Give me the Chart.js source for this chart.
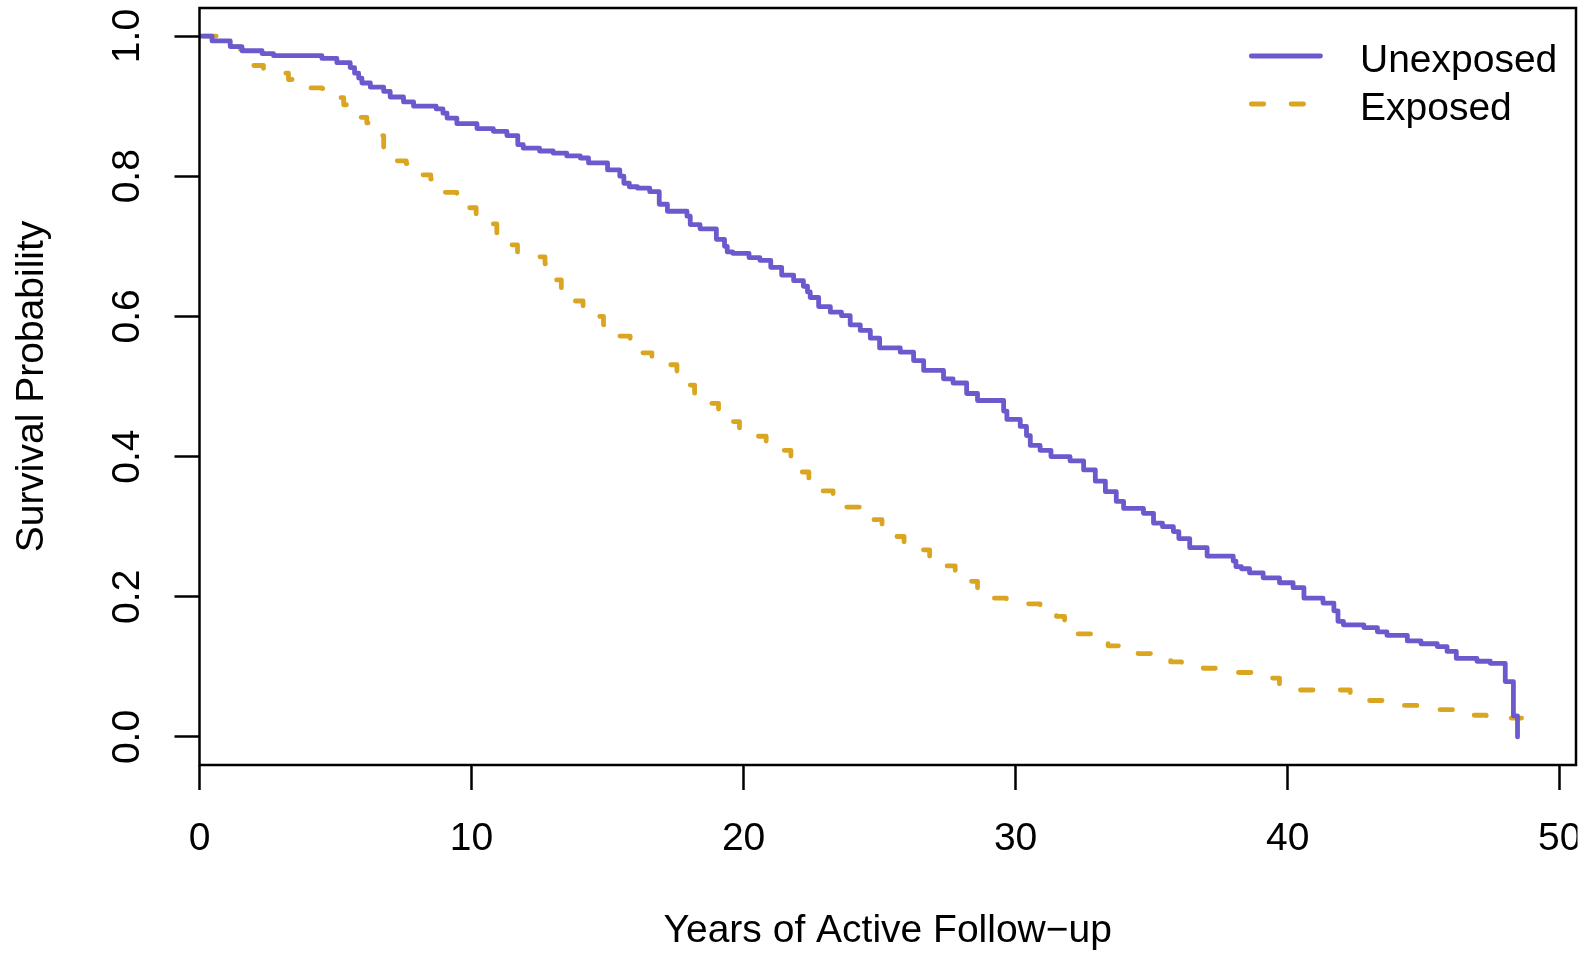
<!DOCTYPE html>
<html>
<head>
<meta charset="utf-8">
<title>Survival by exposure</title>
<script src="https://cdn.jsdelivr.net/npm/chart.js@4/dist/chart.umd.min.js"></script>
<style>
  html, body { margin: 0; padding: 0; background: #fff; }
  #km { display: block; }
</style>
</head>
<body>
<canvas id="km" width="1592" height="957"></canvas>
<script>
// Kaplan-Meier step values (years, survival)
const unexposedTime = [0, 0.46, 1.13, 1.56, 2.3, 2.72, 4.5, 5.05, 5.54, 5.7, 5.85, 5.97, 6.28, 6.77, 7.01, 7.5, 7.87, 8.7, 8.95, 9.1,
  9.46, 10.2, 10.8, 11.3, 11.7, 11.9, 12.5, 13.0, 13.5, 14.0, 14.3, 15.0, 15.45, 15.6, 15.8, 16.1, 16.55, 16.9, 17.2, 17.92,
  18.04, 18.4, 19.0, 19.3, 19.4, 19.6, 20.2, 20.6, 21.0, 21.4, 21.84, 22.2, 22.35, 22.45, 22.76, 23.19, 23.6, 23.92, 24.29, 24.66,
  25.0, 25.76, 26.25, 26.62, 27.35, 27.7, 28.2, 28.6, 29.56, 29.68, 30.17, 30.4, 30.54, 30.9, 31.3, 32.0, 32.5, 32.93, 33.3, 33.7,
  33.97, 34.7, 35.07, 35.4, 35.8, 36.0, 36.4, 37.04, 38.0, 38.1, 38.3, 38.6, 39.1, 39.7, 40.2, 40.6, 41.3, 41.7, 41.85, 42.05,
  42.8, 43.3, 43.65, 44.4, 44.9, 45.5, 45.86, 46.2, 46.96, 47.45, 48.0, 48.3, 48.45];
const unexposedSurv = [1.0, 0.993, 0.985, 0.979, 0.975, 0.972, 0.968, 0.962, 0.955, 0.947, 0.940, 0.933, 0.927, 0.921, 0.913, 0.906, 0.900, 0.896, 0.890, 0.883,
  0.875, 0.868, 0.864, 0.858, 0.845, 0.840, 0.836, 0.833, 0.829, 0.826, 0.819, 0.809, 0.800, 0.790, 0.785, 0.783, 0.778, 0.760, 0.750, 0.743,
  0.731, 0.725, 0.710, 0.700, 0.692, 0.690, 0.684, 0.680, 0.670, 0.659, 0.651, 0.643, 0.635, 0.627, 0.614, 0.606, 0.601, 0.588, 0.580, 0.569,
  0.555, 0.549, 0.537, 0.523, 0.511, 0.505, 0.490, 0.480, 0.465, 0.453, 0.443, 0.430, 0.416, 0.409, 0.400, 0.394, 0.381, 0.365, 0.350, 0.336,
  0.326, 0.319, 0.305, 0.300, 0.293, 0.283, 0.270, 0.258, 0.251, 0.243, 0.240, 0.234, 0.227, 0.220, 0.213, 0.198, 0.191, 0.180, 0.165, 0.160,
  0.156, 0.150, 0.145, 0.137, 0.133, 0.129, 0.122, 0.112, 0.108, 0.105, 0.079, 0.030, 0.000];

const exposedTime = [0, 1.13, 1.5, 1.98, 2.35, 2.97, 3.27, 4.0, 4.5, 5.0, 5.3, 5.8, 6.15, 6.58, 6.77, 7.2, 7.6, 8.14, 8.5, 9.03,
  9.46, 9.87, 10.17, 10.71, 10.93, 11.42, 11.69, 12.4, 12.7, 13.0, 13.3, 13.75, 14.1, 14.6, 14.85, 15.35, 15.83, 16.2, 16.63, 17.18,
  17.55, 17.9, 18.2, 18.75, 19.08, 19.54, 19.85, 20.47, 20.83, 21.47, 21.74, 22.15, 22.4, 22.85, 23.29, 23.74, 24.74, 25.09, 25.58, 25.9,
  26.56, 26.84, 27.44, 27.78, 28.31, 28.6, 29.19, 29.66, 30.42, 30.9, 31.5, 31.8, 32.3, 32.8, 33.4, 33.85, 34.5, 35.0, 35.7, 36.1,
  36.9, 38.1, 38.7, 39.4, 39.7, 40.4, 42.3, 42.97, 43.5, 44.2, 44.75, 45.55, 46.1, 46.8, 47.3, 48.1, 48.6];
const exposedSurv = [1.0, 0.985, 0.981, 0.958, 0.954, 0.947, 0.938, 0.926, 0.925, 0.912, 0.902, 0.884, 0.876, 0.858, 0.840, 0.822, 0.818, 0.802, 0.796, 0.777,
  0.775, 0.755, 0.746, 0.732, 0.719, 0.702, 0.692, 0.685, 0.675, 0.652, 0.641, 0.622, 0.615, 0.600, 0.588, 0.572, 0.567, 0.548, 0.543, 0.531,
  0.520, 0.502, 0.490, 0.476, 0.466, 0.450, 0.438, 0.429, 0.421, 0.409, 0.399, 0.378, 0.369, 0.351, 0.345, 0.328, 0.310, 0.300, 0.286, 0.277,
  0.267, 0.256, 0.244, 0.235, 0.222, 0.211, 0.198, 0.194, 0.190, 0.184, 0.172, 0.159, 0.147, 0.143, 0.130, 0.126, 0.119, 0.117, 0.107, 0.103,
  0.098, 0.092, 0.090, 0.084, 0.074, 0.067, 0.063, 0.052, 0.047, 0.045, 0.041, 0.039, 0.035, 0.031, 0.028, 0.027, 0.027];

const seriesNames = ["Unexposed", "Exposed"];
const xTicks = [0, 10, 20, 30, 40, 50];
const xTickLabels = ["0", "10", "20", "30", "40", "50"];
const yTicks = [0, 0.2, 0.4, 0.6, 0.8, 1.0];
const yTickLabels = ["0.0", "0.2", "0.4", "0.6", "0.8", "1.0"];

const FONT = '"Liberation Sans", Arial, Helvetica, sans-serif';
const BLUE = '#6A5ACD';
const GOLD = '#DAA520';
const DASH = [12.5, 27.29];

function toPoints(ts, vs) {
  return ts.map((t, i) => ({ x: t, y: vs[i] }));
}

// R clips the axis text at the figure edge, so "50" is cut short
const clipPlugin = {
  id: 'figclip',
  beforeDraw(chart) {
    const { ctx, chartArea: a } = chart;
    ctx.save();
    ctx.beginPath();
    ctx.rect(0, 0, a.right + 1.5, chart.height);
    ctx.clip();
  },
  afterDatasetsDraw(chart) {
    chart.ctx.restore();
  }
};

// full box round the plot region, like R's box()
const boxPlugin = {
  id: 'box',
  afterDraw(chart) {
    const { ctx, chartArea: a } = chart;
    ctx.save();
    ctx.strokeStyle = '#000';
    ctx.lineWidth = 2.5;
    ctx.strokeRect(a.left, a.top, a.right - a.left, a.bottom - a.top);
    ctx.restore();
  }
};

// legend without a frame, top right inside the plot
const keyPlugin = {
  id: 'key',
  afterDraw(chart) {
    const { ctx, chartArea: a } = chart;
    const x0 = a.right - 324.7, x1 = a.right - 255.5, tx = a.right - 216;
    ctx.save();
    chart.data.datasets.forEach((ds, i) => {
      const y = a.top + 48 + i * 48;
      ctx.beginPath();
      ctx.strokeStyle = ds.borderColor;
      ctx.lineWidth = ds.borderWidth;
      ctx.lineCap = 'round';
      ctx.setLineDash(ds.borderDash || []);
      ctx.lineDashOffset = 0;
      ctx.moveTo(x0, y);
      ctx.lineTo(x1, y);
      ctx.stroke();
      ctx.setLineDash([]);
      ctx.fillStyle = '#000';
      ctx.font = '39px ' + FONT;
      ctx.textAlign = 'left';
      ctx.textBaseline = 'alphabetic';
      ctx.fillText(ds.label, tx, y + 15.5);
    });
    ctx.restore();
  }
};

const tickMarks = { display: true, drawOnChartArea: false, drawTicks: true, tickLength: 25, tickWidth: 2.5, tickColor: '#000' };

new Chart(document.getElementById('km').getContext('2d'), {
  type: 'line',
  data: {
    datasets: [
      {
        label: seriesNames[0],
        data: toPoints(unexposedTime, unexposedSurv),
        borderColor: BLUE,
        borderWidth: 4.8,
        stepped: true,
        pointRadius: 0,
        fill: false,
        borderJoinStyle: 'round',
        borderCapStyle: 'round'
      },
      {
        label: seriesNames[1],
        data: toPoints(exposedTime, exposedSurv),
        borderColor: GOLD,
        borderWidth: 4.8,
        borderDash: DASH,
        borderDashOffset: 35.59,
        stepped: true,
        pointRadius: 0,
        fill: false,
        borderJoinStyle: 'round',
        borderCapStyle: 'round'
      }
    ]
  },
  options: {
    responsive: false,
    animation: false,
    layout: { padding: { top: 8, right: 16, bottom: 0, left: 0 } },
    plugins: {
      legend: { display: false },
      tooltip: { enabled: false }
    },
    scales: {
      x: {
        type: 'linear',
        min: 0,
        max: 50.6,
        border: { display: false },
        grid: tickMarks,
        afterBuildTicks: s => { s.ticks = xTicks.map(v => ({ value: v })); },
        afterFit: s => { s.height = 192; s.paddingLeft = 0; s.paddingRight = 0; },
        ticks: {
          color: '#000',
          font: { family: FONT, size: 39 },
          padding: 25.5,
          maxRotation: 0,
          autoSkip: false,
          callback: (v, i) => xTickLabels[i]
        },
        title: {
          display: true,
          text: 'Years of Active Follow\u2212up',
          color: '#000',
          font: { family: FONT, size: 39 },
          padding: { top: 0, bottom: 2.6 }
        }
      },
      y: {
        type: 'linear',
        min: -0.04,
        max: 1.04,
        border: { display: false },
        grid: tickMarks,
        afterBuildTicks: s => { s.ticks = yTicks.map(v => ({ value: v })); },
        afterFit: s => { s.width = 199.5; s.paddingTop = 0; s.paddingBottom = 0; },
        ticks: {
          color: '#000',
          font: { family: FONT, size: 39 },
          padding: 19.4,
          minRotation: 90,
          maxRotation: 90,
          crossAlign: 'center',
          autoSkip: false,
          callback: (v, i) => yTickLabels[i]
        },
        title: {
          display: true,
          text: 'Survival Probability',
          color: '#000',
          font: { family: FONT, size: 39 },
          padding: { top: 8.6, bottom: 0 }
        }
      }
    }
  },
  plugins: [clipPlugin, boxPlugin, keyPlugin]
});
</script>
</body>
</html>
